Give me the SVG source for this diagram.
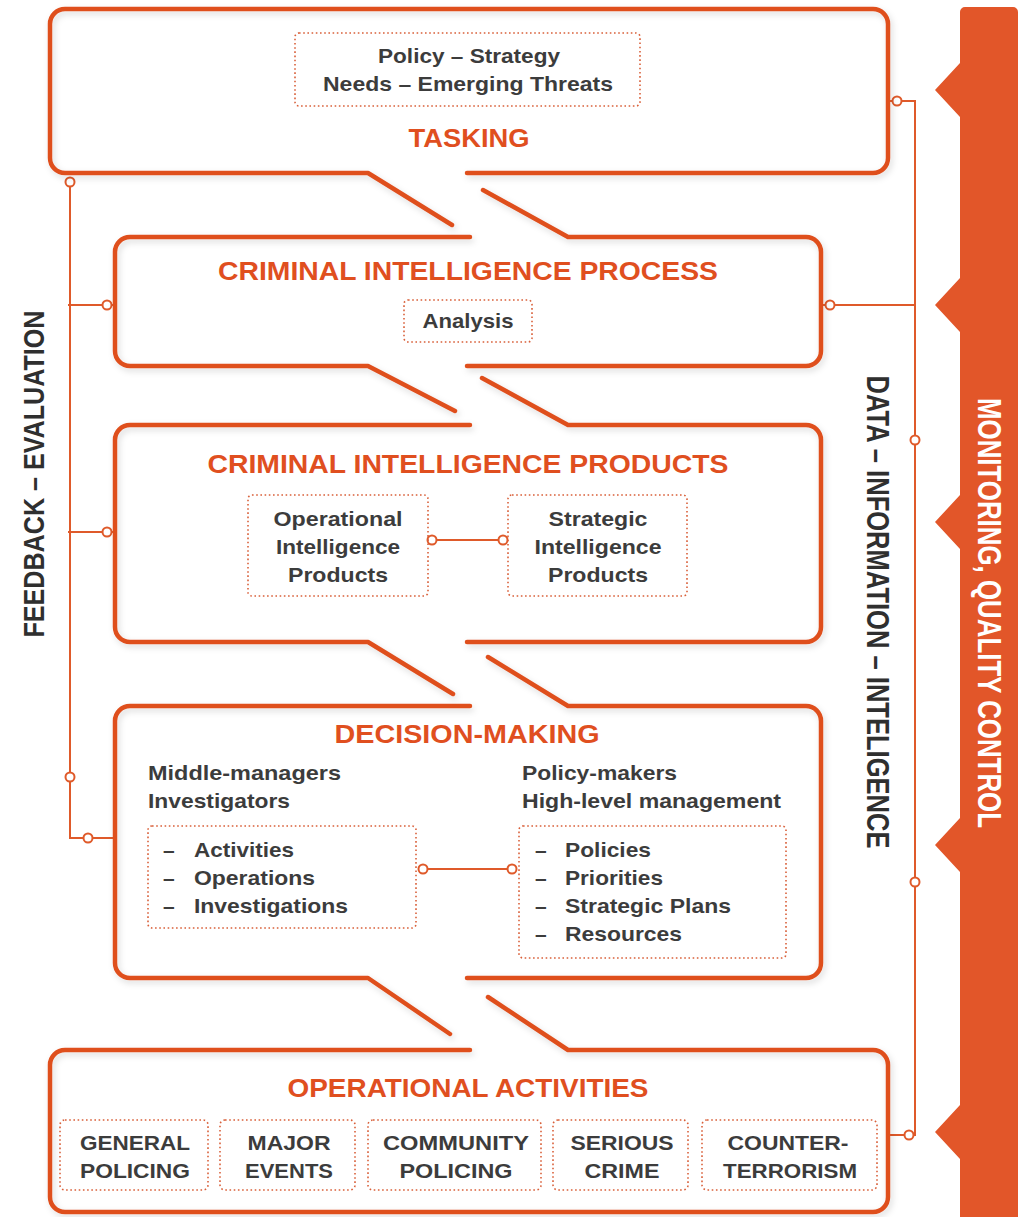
<svg xmlns="http://www.w3.org/2000/svg" width="1021" height="1217" viewBox="0 0 1021 1217">
<style>
.box{fill:none;stroke:#df4f1f;stroke-width:4.5;stroke-linecap:round;stroke-linejoin:round;filter:url(#sh)}
.dot{fill:none;stroke:#d9603a;stroke-width:1.6;stroke-dasharray:1.6 2.6}
.ln{fill:none;stroke:#df5a2a;stroke-width:2}
.cc{fill:#fff;stroke:#df5a2a;stroke-width:2}
.h{font-family:"Liberation Sans",Arial,sans-serif;font-weight:bold;font-size:25px;fill:#e04f1f;text-anchor:middle}
.t{font-family:"Liberation Sans",Arial,sans-serif;font-weight:bold;font-size:21px;fill:#3c3c3c}
.m{text-anchor:middle}
.v{font-family:"Liberation Sans",Arial,sans-serif;font-weight:bold;text-anchor:middle}
</style>
<defs>
<filter id="sh" x="-5%" y="-10%" width="110%" height="130%">
<feDropShadow dx="2" dy="3" stdDeviation="3" flood-color="#000" flood-opacity="0.14"/>
</filter>
</defs>
<rect width="1021" height="1217" fill="#fff"/>

<g id="monitoring-bar">
<path d="M960,1217 V1159 L935,1132 L960,1105 V872 L935,845 L960,818 V549 L935,522 L960,495 V332 L935,305 L960,278 V117 L935,90 L960,63 V12 A5,5 0 0 1 965,7 H1013 A5,5 0 0 1 1018,12 V1217 Z" fill="#e25629"/>
<text class="v" transform="translate(978,613) rotate(90)" font-size="34" fill="#fff" textLength="430" lengthAdjust="spacingAndGlyphs">MONITORING, QUALITY CONTROL</text>
</g>

<g id="data-label">
<text class="v" transform="translate(867,612) rotate(90)" font-size="32" fill="#2f2f2f" textLength="473" lengthAdjust="spacingAndGlyphs">DATA – INFORMATION – INTELIGENCE</text>
</g>

<g id="feedback-label">
<text class="v" transform="translate(44,474) rotate(-90)" font-size="30" fill="#2f2f2f" textLength="327" lengthAdjust="spacingAndGlyphs">FEEDBACK – EVALUATION</text>
</g>

<g id="connectors">
<!-- feedback line -->
<path class="ln" d="M70,181 V838 H115"/>
<path class="ln" d="M68,305 H115"/>
<path class="ln" d="M68,532 H115"/>
<!-- data line -->
<path class="ln" d="M888,101 H915 V1135 H888"/>
<path class="ln" d="M821,305 H915"/>
<!-- inner links -->
<path class="ln" d="M432,540 H503"/>
<path class="ln" d="M423,869 H512"/>
<circle class="cc" cx="70" cy="182" r="4.5"/>
<circle class="cc" cx="107" cy="305" r="4.5"/>
<circle class="cc" cx="107" cy="532" r="4.5"/>
<circle class="cc" cx="70" cy="777" r="4.5"/>
<circle class="cc" cx="88" cy="838" r="4.5"/>
<circle class="cc" cx="897" cy="101" r="4.5"/>
<circle class="cc" cx="830" cy="305" r="4.5"/>
<circle class="cc" cx="915" cy="440" r="4.5"/>
<circle class="cc" cx="915" cy="882" r="4.5"/>
<circle class="cc" cx="909" cy="1135" r="4.5"/>
<circle class="cc" cx="432" cy="540" r="4.5"/>
<circle class="cc" cx="503" cy="540" r="4.5"/>
<circle class="cc" cx="423" cy="869" r="4.5"/>
<circle class="cc" cx="512" cy="869" r="4.5"/>
</g>

<g id="tasking">
<path class="box" d="M467,173 H873 A15,15 0 0 0 888,158 V24 A15,15 0 0 0 873,9 H65 A15,15 0 0 0 50,24 V158 A15,15 0 0 0 65,173 H368 L452,225"/>
<rect class="dot" x="295" y="33" width="345" height="73" rx="4"/>
<text class="t m" x="469" y="63" textLength="182" lengthAdjust="spacingAndGlyphs">Policy – Strategy</text>
<text class="t m" x="468" y="91" textLength="290" lengthAdjust="spacingAndGlyphs">Needs – Emerging Threats</text>
<text class="h" x="469" y="147" textLength="121" lengthAdjust="spacingAndGlyphs">TASKING</text>
</g>

<g id="process">
<path class="box" d="M470,237 H130 A15,15 0 0 0 115,252 V351 A15,15 0 0 0 130,366 H368 L455,411"/>
<path class="box" d="M483,190 L568,237 H806 A15,15 0 0 1 821,252 V351 A15,15 0 0 1 806,366 H467"/>
<text class="h" x="468" y="280" textLength="500" lengthAdjust="spacingAndGlyphs">CRIMINAL INTELLIGENCE PROCESS</text>
<rect class="dot" x="404" y="300" width="128" height="42" rx="4"/>
<text class="t m" x="468" y="328" textLength="91" lengthAdjust="spacingAndGlyphs">Analysis</text>
</g>

<g id="products">
<path class="box" d="M470,425 H130 A15,15 0 0 0 115,440 V627 A15,15 0 0 0 130,642 H368 L453,694"/>
<path class="box" d="M482,378 L568,425 H806 A15,15 0 0 1 821,440 V627 A15,15 0 0 1 806,642 H467"/>
<text class="h" x="468" y="473" textLength="521" lengthAdjust="spacingAndGlyphs">CRIMINAL INTELLIGENCE PRODUCTS</text>
<g id="operational-products">
<rect class="dot" x="248" y="495" width="180" height="101" rx="4"/>
<text class="t m" x="338" y="526" font-size="20" textLength="129" lengthAdjust="spacingAndGlyphs">Operational</text>
<text class="t m" x="338" y="554" font-size="20" textLength="124" lengthAdjust="spacingAndGlyphs">Intelligence</text>
<text class="t m" x="338" y="582" font-size="20" textLength="100" lengthAdjust="spacingAndGlyphs">Products</text>
</g>
<g id="strategic-products">
<rect class="dot" x="508" y="495" width="179" height="101" rx="4"/>
<text class="t m" x="598" y="526" font-size="20" textLength="99" lengthAdjust="spacingAndGlyphs">Strategic</text>
<text class="t m" x="598" y="554" font-size="20" textLength="127" lengthAdjust="spacingAndGlyphs">Intelligence</text>
<text class="t m" x="598" y="582" font-size="20" textLength="100" lengthAdjust="spacingAndGlyphs">Products</text>
</g>
</g>

<g id="decision-making">
<path class="box" d="M470,706 H130 A15,15 0 0 0 115,721 V963 A15,15 0 0 0 130,978 H368 L450,1034"/>
<path class="box" d="M488,657 L568,706 H806 A15,15 0 0 1 821,721 V963 A15,15 0 0 1 806,978 H467"/>
<text class="h" x="467" y="743" textLength="265" lengthAdjust="spacingAndGlyphs">DECISION-MAKING</text>
<text class="t" x="148" y="780" textLength="193" lengthAdjust="spacingAndGlyphs">Middle-managers</text>
<text class="t" x="148" y="808" textLength="142" lengthAdjust="spacingAndGlyphs">Investigators</text>
<text class="t" x="522" y="780" textLength="155" lengthAdjust="spacingAndGlyphs">Policy-makers</text>
<text class="t" x="522" y="808" textLength="259" lengthAdjust="spacingAndGlyphs">High-level management</text>
<g id="operational-decisions">
<rect class="dot" x="148" y="826" width="268" height="102" rx="4"/>
<text class="t" x="163" y="857">–</text>
<text class="t" x="163" y="885">–</text>
<text class="t" x="163" y="913">–</text>
<text class="t" x="194" y="857" textLength="100" lengthAdjust="spacingAndGlyphs">Activities</text>
<text class="t" x="194" y="885" textLength="121" lengthAdjust="spacingAndGlyphs">Operations</text>
<text class="t" x="194" y="913" textLength="154" lengthAdjust="spacingAndGlyphs">Investigations</text>
</g>
<g id="strategic-decisions">
<rect class="dot" x="519" y="826" width="267" height="132" rx="4"/>
<text class="t" x="535" y="857">–</text>
<text class="t" x="535" y="885">–</text>
<text class="t" x="535" y="913">–</text>
<text class="t" x="535" y="941">–</text>
<text class="t" x="565" y="857" textLength="86" lengthAdjust="spacingAndGlyphs">Policies</text>
<text class="t" x="565" y="885" textLength="98" lengthAdjust="spacingAndGlyphs">Priorities</text>
<text class="t" x="565" y="913" textLength="166" lengthAdjust="spacingAndGlyphs">Strategic Plans</text>
<text class="t" x="565" y="941" textLength="117" lengthAdjust="spacingAndGlyphs">Resources</text>
</g>
</g>

<g id="operational-activities">
<path class="box" d="M470,1050 H65 A15,15 0 0 0 50,1065 V1197 A15,15 0 0 0 65,1212 H873 A15,15 0 0 0 888,1197 V1065 A15,15 0 0 0 873,1050 H568 L488,997"/>
<text class="h" x="468" y="1097" textLength="361" lengthAdjust="spacingAndGlyphs">OPERATIONAL ACTIVITIES</text>
<g id="general-policing">
<rect class="dot" x="60" y="1120" width="148" height="70" rx="5"/>
<text class="t m" x="135" y="1150" textLength="110" lengthAdjust="spacingAndGlyphs">GENERAL</text>
<text class="t m" x="135" y="1178" textLength="110" lengthAdjust="spacingAndGlyphs">POLICING</text>
</g>
<g id="major-events">
<rect class="dot" x="220" y="1120" width="135" height="70" rx="5"/>
<text class="t m" x="289" y="1150" textLength="83" lengthAdjust="spacingAndGlyphs">MAJOR</text>
<text class="t m" x="289" y="1178" textLength="88" lengthAdjust="spacingAndGlyphs">EVENTS</text>
</g>
<g id="community-policing">
<rect class="dot" x="368" y="1120" width="173" height="70" rx="5"/>
<text class="t m" x="456" y="1150" textLength="146" lengthAdjust="spacingAndGlyphs">COMMUNITY</text>
<text class="t m" x="456" y="1178" textLength="113" lengthAdjust="spacingAndGlyphs">POLICING</text>
</g>
<g id="serious-crime">
<rect class="dot" x="553" y="1120" width="135" height="70" rx="5"/>
<text class="t m" x="622" y="1150" textLength="103" lengthAdjust="spacingAndGlyphs">SERIOUS</text>
<text class="t m" x="622" y="1178" textLength="75" lengthAdjust="spacingAndGlyphs">CRIME</text>
</g>
<g id="counter-terrorism">
<rect class="dot" x="702" y="1120" width="175" height="70" rx="5"/>
<text class="t m" x="788" y="1150" textLength="121" lengthAdjust="spacingAndGlyphs">COUNTER-</text>
<text class="t m" x="790" y="1178" textLength="134" lengthAdjust="spacingAndGlyphs">TERRORISM</text>
</g>
</g>
</svg>
